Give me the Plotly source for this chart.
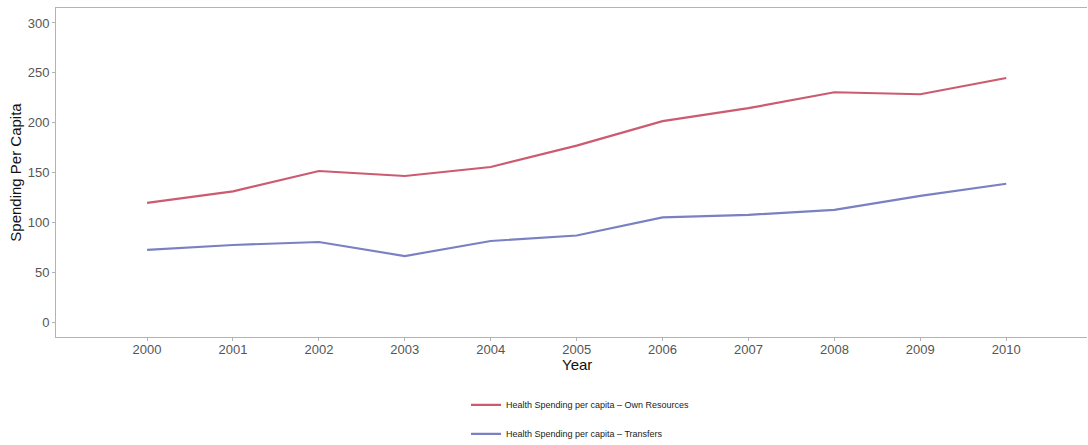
import plotly.graph_objects as go

years = [2000, 2001, 2002, 2003, 2004, 2005, 2006, 2007, 2008, 2009, 2010]
own_resources = [119.5, 131, 151.5, 146.5, 155.5, 177, 201.5, 214.5, 230.5, 228.5, 244.8]
transfers = [72.3, 77.3, 80.3, 66.2, 81.3, 86.8, 105, 107.5, 112.6, 126.5, 138.7]
series_names = ["Health Spending per capita – Own Resources",
                "Health Spending per capita – Transfers"]
colors = ["#cc5b72", "#7b80c2"]

fig = go.Figure()
for i, (name, vals) in enumerate(zip(series_names, [own_resources, transfers])):
    fig.add_trace(go.Scatter(
        x=years, y=vals, mode="lines", name=name,
        line=dict(color=colors[i], width=2.2),
        legendgroup=f"g{i}",
    ))

axis_font = dict(family="Liberation Sans, Arial, sans-serif", size=13, color="#555555")
fig.update_layout(
    width=1088, height=445,
    margin=dict(l=56, r=1, t=8, b=108, autoexpand=False),
    paper_bgcolor="white", plot_bgcolor="white",
    font=dict(family="Liberation Sans, Arial, sans-serif"),
    showlegend=True,
    legend=dict(
        orientation="v", x=0.5 + 9/1031, xanchor="center",
        y=-0.162, yanchor="top",
        font=dict(size=9, color="#222222"),
        tracegroupgap=10,
        itemwidth=30,
    ),
    xaxis=dict(
        range=[1998.94, 2010.94],
        tickmode="array", tickvals=years, ticktext=[str(y) for y in years],
        showgrid=False, zeroline=False,
        showline=True, linecolor="#b3b3b3", linewidth=1, mirror=True,
        ticks="outside", ticklen=3, tickcolor="#b3b3b3",
        tickfont=axis_font,
        ticklabelstandoff=-3,
    ),
    yaxis=dict(
        range=[-15, 315],
        tickvals=[0, 50, 100, 150, 200, 250, 300],
        showgrid=False, zeroline=False,
        showline=True, linecolor="#b3b3b3", linewidth=1,
        ticks="outside", ticklen=3, tickcolor="#b3b3b3",
        tickfont=axis_font,
        title=dict(text="Spending Per Capita", font=dict(size=15, color="#111111"), standoff=2),
    ),
    annotations=[dict(
        text="Year", xref="paper", yref="paper",
        x=0.5 + 5/1031, y=-28/329, xanchor="center", yanchor="middle",
        showarrow=False, font=dict(size=15, color="#111111"),
    )],
)

fig.write_html(
    "out.html",
    config={"displayModeBar": False},
    post_script="document.body.style.margin='0';document.body.style.padding='0';document.body.style.overflow='hidden';",
)
